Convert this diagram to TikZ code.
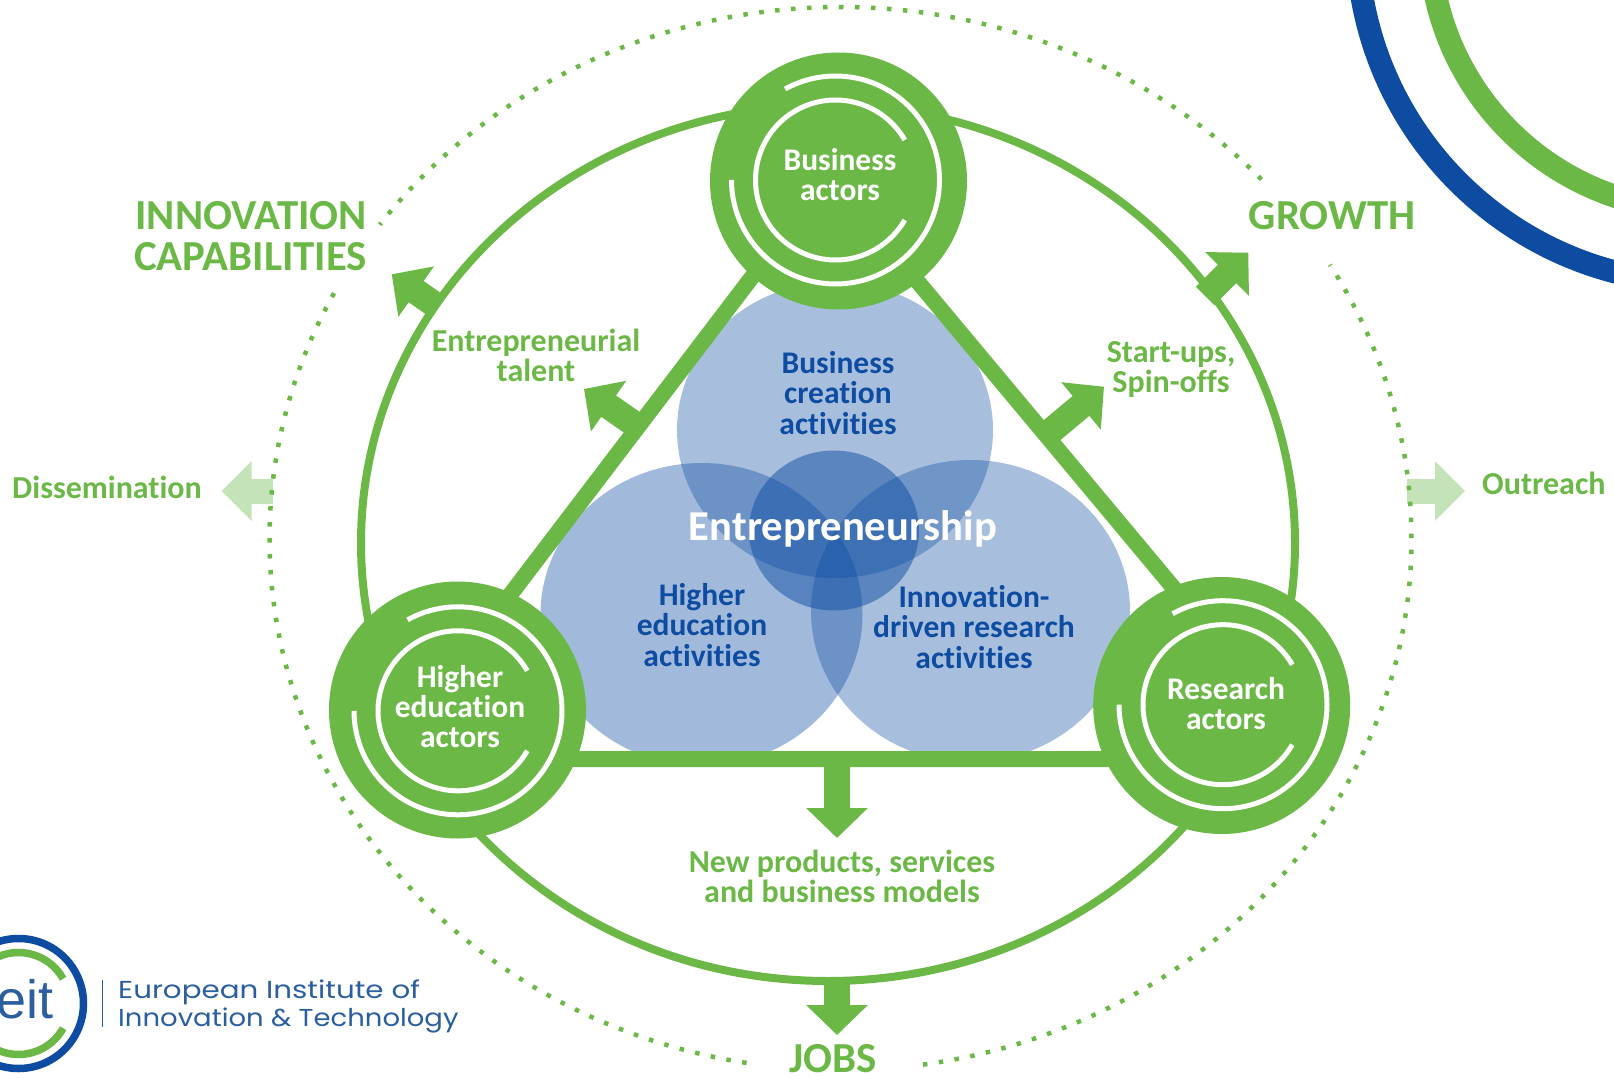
\documentclass[tikz,border=0pt]{standalone}
\usepackage{fontspec}
\setmainfont{Carlito}[Ligatures=NoCommon]
\newfontfamily\logofont{Poppins}
\newfontfamily\eitfont{Liberation Sans}
\usetikzlibrary{arrows.meta}
\definecolor{eitgreen}{HTML}{6BB847}
\definecolor{eitlight}{HTML}{C5E3B8}
\definecolor{eitblue}{HTML}{0D4CA1}
\definecolor{eitnavy}{HTML}{2A5E9E}
\tikzset{
	disc/.style={circle,fill=eitgreen,minimum size=257pt,inner sep=0pt},
	ring/.style={white,line width=5pt},
	blob/.style={fill=eitblue,fill opacity=.36},
	fatarrow/.style={eitgreen,line width=26pt,-{Triangle[width=60pt,length=30pt]}},
	palearrow/.style={eitlight,line width=25pt,-{Triangle[width=58pt,length=30pt]}},
	bar/.style={eitgreen,line width=16pt},
	dots/.style={eitgreen,line width=4.5pt,dash pattern=on 4.5pt off 11.5pt},
	big/.style={eitgreen,font=\fontsize{42.8}{41}\selectfont\bfseries,align=center,inner sep=0pt},
	small/.style={eitgreen,font=\fontsize{32}{30}\selectfont\bfseries,align=center,inner sep=0pt},
	inner/.style={white,font=\fontsize{31.5}{30}\selectfont\bfseries,align=center,inner sep=0pt},
	activity/.style={eitblue,font=\fontsize{31.5}{30.5}\selectfont\bfseries,align=center,inner sep=0pt},
	logotext/.style={eitnavy,anchor=base west,inner sep=0pt,font=\logofont\fontsize{24.5}{24.5}\selectfont,transform shape},
}
\begin{document}
\begin{tikzpicture}[x=1pt,y=1pt]
	\useasboundingbox (0,-1078) rectangle (1614,0);
	\clip (0,-1078) rectangle (1614,0);
	% corner arcs
	\draw[eitblue,line width=23pt] (1702,62) circle(345pt);
	\draw[eitgreen,line width=23pt] (1702,62) circle(272.5pt);
	% big ring and pale arrows
	\draw[eitgreen,line width=8pt] (828,-543) ellipse[x radius=467pt,y radius=438pt];
	\coordinate (dissemStart) at (273,-491);
	\coordinate (dissemTip) at (221.5,-491);
	\coordinate (outreachStart) at (1407,-491);
	\coordinate (outreachTip) at (1465,-491);
	\draw[palearrow] (dissemStart)--(dissemTip);
	\draw[palearrow] (outreachStart)--(outreachTip);
	\foreach \a/\b in {152.5/260.7,278.3/391,42.5/143.8}
		\draw[dots] (840.5,-538.6) ++(\a:571pt and 531.6pt) arc[start angle=\a,end angle=\b,x radius=571pt,y radius=531.6pt];
	% activity circles
	\begin{scope}
		\clip (500,-752) rectangle (1150,-250);
		\fill[blob] (835,-430) ellipse[x radius=158pt,y radius=148pt];
		\fill[blob,fill opacity=.39] (701.5,-614.4) ellipse[x radius=161pt,y radius=151.4pt];
		\fill[blob] (970.5,-611) ellipse[x radius=159.5pt,y radius=151pt];
		\fill[blob,fill opacity=.5] (834,-530.5) ellipse[x radius=85pt,y radius=80pt];
	\end{scope}
	% thick arrows
	\coordinate (talentStart) at (640,-428);
	\coordinate (talentTip) at (584,-389);
	\coordinate (capStart) at (438,-307);
	\coordinate (capTip) at (391.7,-274.3);
	\coordinate (spinStart) at (1045,-436);
	\coordinate (spinTip) at (1104,-386.7);
	\coordinate (growthStart) at (1205,-296);
	\coordinate (growthTip) at (1248.3,-252.7);
	\coordinate (productStart) at (837,-760);
	\coordinate (productTip) at (837,-838);
	\coordinate (jobsStart) at (837,-982);
	\coordinate (jobsTip) at (837,-1035);
	\foreach \s/\t in {talentStart/talentTip,capStart/capTip,spinStart/spinTip,growthStart/growthTip,productStart/productTip,jobsStart/jobsTip}
		\draw[fatarrow] (\s)--(\t);
	% triangle
	\coordinate (barA) at (765,-260);
	\coordinate (barB) at (491,-620);
	\coordinate (barC) at (908,-270);
	\coordinate (barD) at (1192,-610);
	\coordinate (barE) at (560,-759);
	\coordinate (barF) at (1110,-759);
	\draw[bar] (barA)--(barB) (barC)--(barD) (barE)--(barF);
	% actors
	\node[disc] (business) at (838.5,-181) {};
	\node[disc] (education) at (457.5,-710) {};
	\node[disc] (research) at (1221.7,-705.5) {};
	\foreach \x/\y in {835.5/-180,458/-710.8,1223/-704.7}{
		\draw[ring] (\x,\y) ++(30:80pt) arc[start angle=30,end angle=330,radius=80pt];
		\draw[ring] (\x,\y) ++(180:104pt) arc[start angle=180,end angle=479,radius=104pt];
	}
	\node[inner] (businessText) at (840,-174.5) {Business\\actors};
	\node[inner] (educationText) at (460,-707) {Higher\\education\\actors};
	\node[inner] (researchText) at (1226,-703.5) {Research\\actors};
	\node[activity] (creation) at (838,-393) {Business\\creation\\activities};
	\node[activity] (higher) at (702,-625) {Higher\\education\\activities};
	\node[activity] (driven) at (974,-627) {Innovation-\\driven research\\activities};
	\node[white,font=\fontsize{42.6}{45}\selectfont\bfseries,inner sep=0pt] (core) at (843,-529) {Entrepreneurship};
	% outcomes
	\node[big,align=right,anchor=east] (capabilities) at (367,-236.5) {INNOVATION\\CAPABILITIES};
	\node[big] (growth) at (1332,-216) {GROWTH};
	\node[big] (jobs) at (833,-1058.5) {JOBS};
	\node[small] (talent) at (536,-355) {Entrepreneurial\\talent};
	\node[small] (spin) at (1171,-370) {Start-ups,\\Spin-offs};
	\node[small] (products) at (842,-876.5) {New products, services\\and business models};
	\node[small] (dissem) at (107,-487) {Dissemination};
	\node[small,anchor=west] (outreach) at (1482,-483) {Outreach};
	% logo
	\draw[eitblue,line width=7.5pt] (18.5,-1003.5) circle(65pt);
	\draw[eitgreen,line width=7.5pt] (18.5,-1003.5) ++(29:51pt) arc[start angle=29,end angle=331,radius=51pt];
	\node[eitnavy,anchor=base east,inner sep=0pt,font=\eitfont\fontsize{54}{54}\selectfont] (eit) at (54,-1018) {eit};
	\coordinate (sepTop) at (102.7,-980);
	\coordinate (sepBottom) at (102.7,-1027);
	\draw[eitnavy,line width=1.5pt] (sepTop)--(sepBottom);
	\node[logotext,xscale=1.197] (logoA) at (118,-998) {European Institute of};
	\node[logotext,xscale=1.122] (logoB) at (118,-1026) {Innovation \& Technology};
\end{tikzpicture}
\end{document}
